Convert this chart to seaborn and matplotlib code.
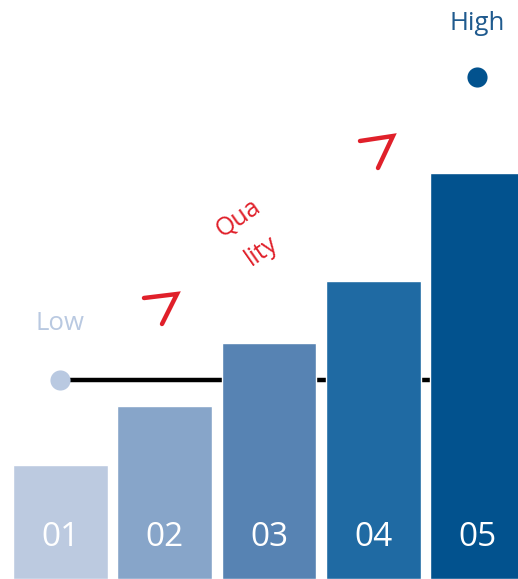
import matplotlib
matplotlib.use("Agg")
import matplotlib.pyplot as plt
import seaborn as sns
import pandas as pd

# data
categories = ["01", "02", "03", "04", "05"]
values = [114, 173, 236, 298, 406]
bar_colors = ["#bccae0", "#87a5c9", "#5783b3", "#1f6aa3", "#02528e"]
baseline_value = 199
low_label = "Low"
high_label = "High"
high_value = 502
quality_text = "Qua\nlity"

sns.set_theme(style="white")
plt.rcParams['font.family'] = ['Open Sans', 'DejaVu Sans']

fig = plt.figure(figsize=(5.18, 5.79), dpi=100)
ax = fig.add_axes([0, 0, 1, 1])

df = pd.DataFrame({"cat": categories, "val": values})
sns.barplot(data=df, x="cat", y="val", hue="cat", palette=bar_colors,
            legend=False, width=0.91, saturation=1, ax=ax, zorder=3)

# baseline line and markers
ax.plot([0, 4], [baseline_value, baseline_value], color="black", lw=3.2, zorder=1,
        solid_capstyle="butt")
ax.plot([0], [baseline_value], "o", color="#b9c9e1", ms=14.5, zorder=4, mec="none")
ax.plot([4], [high_value], "o", color="#02528e", ms=14.5, zorder=4, mec="none")

ax.text(0, baseline_value + 57, low_label, color="#b9c9e1", fontsize=18.5,
        ha="center", va="center")
ax.text(4, high_value + 53, high_label, color="#1f5a8e", fontsize=18.5,
        ha="center", va="center")

for i, c in enumerate(categories):
    ax.text(i, 41, c, color="white", fontsize=24, ha="center", va="center", zorder=5)

# red annotation strokes (figure pixel coords -> axes fraction)
W, H = 518, 579
def fpath(pts):
    return [p[0] / W for p in pts], [1 - p[1] / H for p in pts]
for pts in ([(144, 298), (177, 294), (162, 324)], [(360, 141), (393, 136), (378, 168)]):
    xs, ys = fpath(pts)
    ax.plot(xs, ys, color="#e0202a", lw=3.2, transform=ax.transAxes,
            solid_capstyle="round", solid_joinstyle="miter", zorder=6)

ax.text(250 / W, 1 - 235 / H, quality_text, color="#e0202a", fontsize=18,
        rotation=35, ha="center", va="center", multialignment="center",
        linespacing=1.75, transform=ax.transAxes, rotation_mode="anchor")

ax.set_xlim(-0.580, 4.389)
ax.set_ylim(0, 579)
ax.axis("off")

fig.savefig("out.png", dpi=100)
